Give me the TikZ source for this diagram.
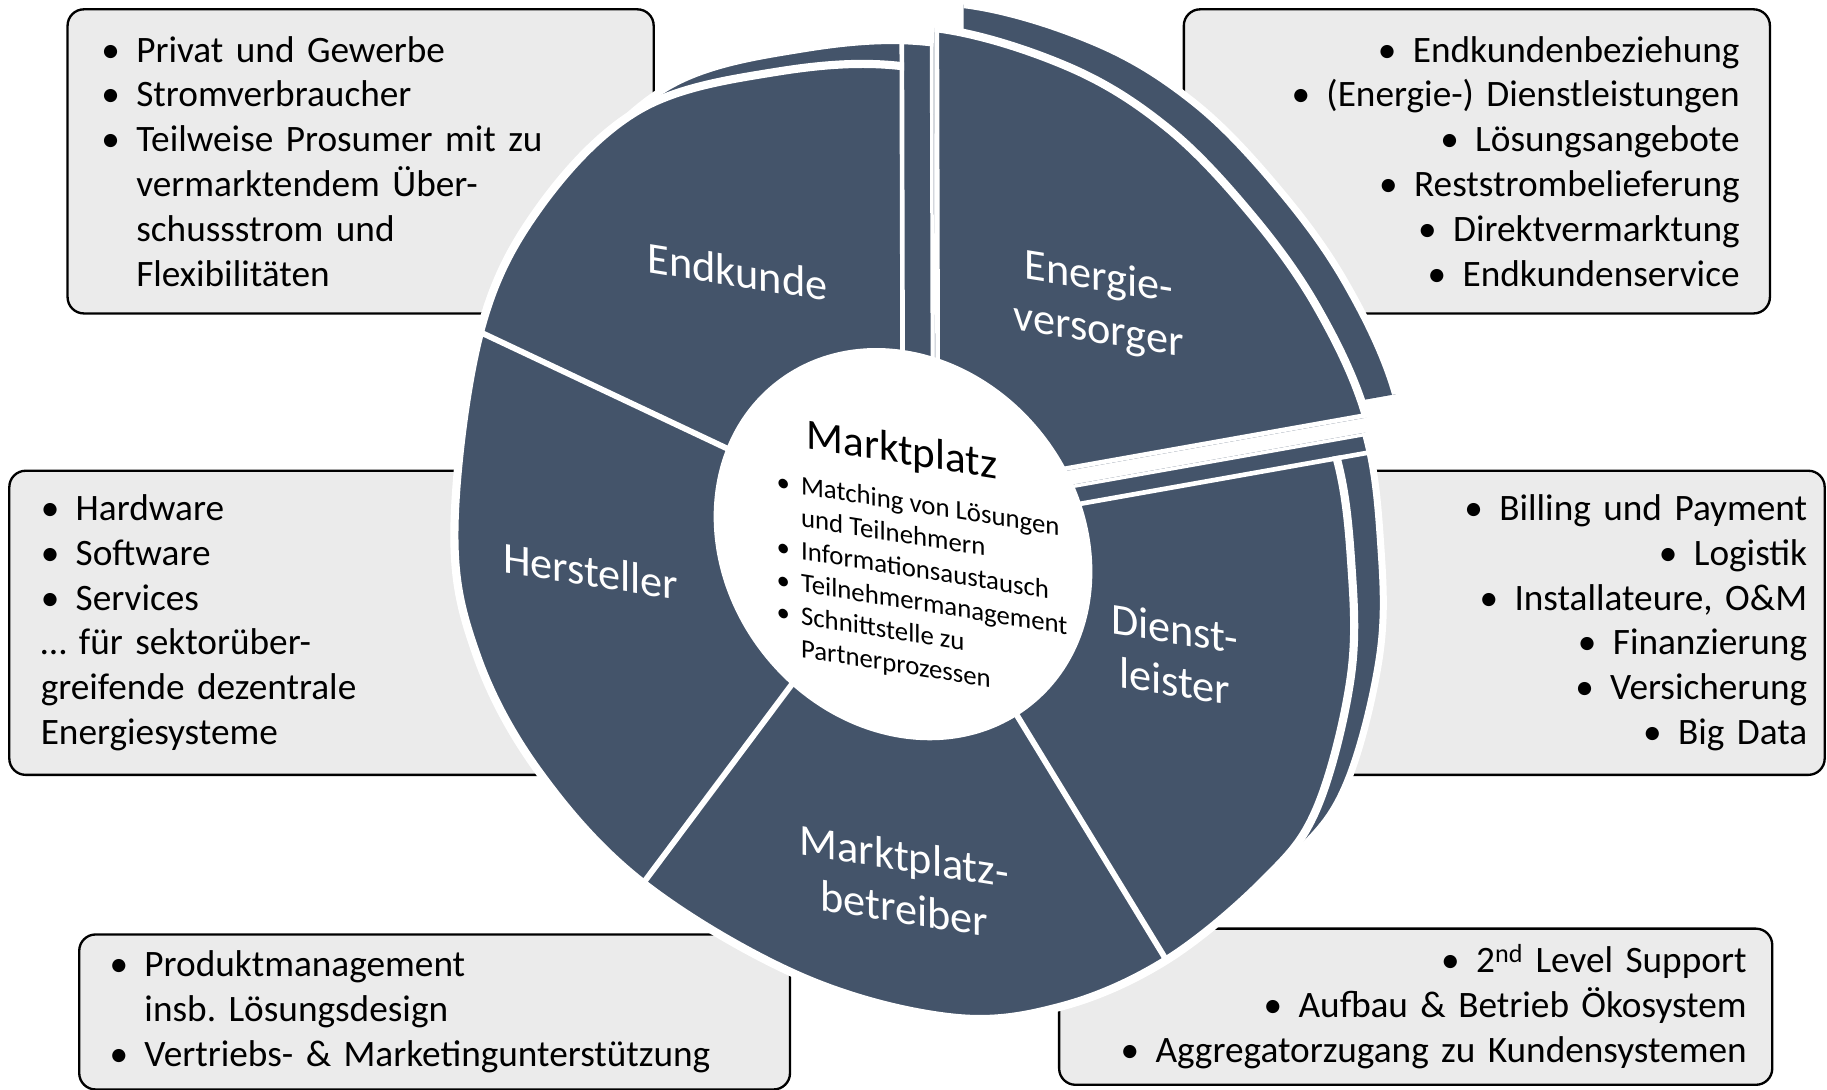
\documentclass[tikz,border=0pt]{standalone}
\usepackage{fontspec}
\setmainfont{Carlito}
\usetikzlibrary{calc,positioning}

\definecolor{ringblau}{HTML}{44546A}
\definecolor{kastengrau}{HTML}{EBEBEB}

\frenchspacing
\newcommand{\bul}[1][30pt]{\makebox[#1][l]{\textbullet}}
\newcommand{\aussen}{plot[smooth cycle, tension=0.6] coordinates {(776,57) (890,90) (975,142) (1047,216) (1104,296) (1146,389) (1160,488) (1159,583) (1130,694) (1085,755) (1001,824) (910,864) (815,873) (687,838) (552,758) (463,663) (409,562) (390,455) (412,285) (463,178) (549,94) (664,62)}}
\newcommand{\energiekeil}{(777,457) -- (774,-743) -- (1875,262) -- cycle}
\newcommand{\restkeil}{(777,457) -- (1875,262) -- (1875,1500) -- (-500,1500) -- (-500,-743) -- (774,-743) -- cycle}

\begin{document}
\begin{tikzpicture}[x=1pt,y=-1pt,
	kasten/.style={draw=black,line width=2pt,fill=kastengrau,rounded corners=14pt,
		minimum height=261pt,inner ysep=0pt,font=\fontsize{32}{38.5}\selectfont},
	vorderseite/.style={fill=ringblau,draw=white,line width=7pt},
	rueckseite/.style={fill=ringblau,draw=white,line width=6pt},
	trennlinie/.style={draw=white,line width=5pt},
	segtext/.style={text=white,align=center,yslant=-0.16,font=\fontsize{38}{45}\selectfont},
	mptitel/.style={yslant=-0.16,font=\fontsize{37}{44}\selectfont},
	mpliste/.style={yslant=-0.16,align=left,font=\fontsize{23}{28}\selectfont}]
	\useasboundingbox (0,0) rectangle (1568,935);

	\node[kasten,anchor=north west,text width=445pt,inner xsep=29pt,align=left] (kundeinfo) at (57,7)
		{\bul Privat und Gewerbe\\ \bul Stromverbraucher\\ \bul Teilweise Prosumer mit zu\\
		\hspace*{30pt}vermarktendem Über-\\ \hspace*{30pt}schussstrom und\\ \hspace*{30pt}Flexibilitäten};
	\node[kasten,anchor=north west,text width=451pt,inner xsep=26pt,align=right] (versorgerinfo) at (1015,7)
		{\bul Endkundenbeziehung\\ \bul (Energie-) Dienstleistungen\\ \bul Lösungsangebote\\
		\bul Reststrombelieferung\\ \bul Direktvermarktung\\ \bul Endkundenservice};
	\node[kasten,anchor=north west,text width=449pt,inner xsep=27pt,align=left] (herstellerinfo) at (7,403)
		{\bul Hardware\\ \bul Software\\ \bul Services\\ … für sektorüber-\\ greifende dezentrale\\ Energiesysteme};
	\node[kasten,anchor=north east,text width=473pt,inner xsep=15pt,align=right] (dienstinfo) at (1567,403)
		{\bul Billing und Payment\\ \bul Logistik\\ \bul Installateure, O\&M\\
		\bul Finanzierung\\ \bul Versicherung\\ \bul Big Data};
	\node[kasten,anchor=north west,text width=558pt,inner xsep=26pt,align=left,minimum height=133pt] (produktinfo) at (67,801)
		{\bul Produktmanagement\\ \hspace*{30pt}insb. Lösungsdesign\\ \bul Vertriebs- \& Marketingunterstützung};
	\node[kasten,anchor=north west,text width=568pt,inner xsep=22pt,align=right,minimum height=134pt] (betriebinfo) at (908,796)
		{\bul 2\textsuperscript{nd} Level Support\\ \bul Aufbau \& Betrieb Ökosystem\\ \bul Aggregatorzugang zu Kundensystemen};

	\begin{scope}[shift={(25,-20)}]
		\clip \restkeil;
		\fill[rueckseite] \aussen;
		\draw[white,line width=6pt] \restkeil;
	\end{scope}
	\begin{scope}[shift={(51,-53)}]
		\clip \energiekeil;
		\fill[rueckseite] \aussen;
	\end{scope}

	\begin{scope}
		\clip \restkeil;
		\fill[vorderseite] \aussen;
		\draw[white,line width=8pt] \restkeil;
	\end{scope}
	\coordinate (C) at (777,457);
	\coordinate (s3) at (1001,824);
	\coordinate (s4) at (552,758);
	\coordinate (s5) at (412,285);
	\draw[trennlinie] (C) -- (s3) (C) -- (s4) (C) -- (s5);

	\begin{scope}[shift={(26,-33)}]
		\clip \energiekeil;
		\fill[vorderseite] \aussen;
		\draw[white,line width=8pt] \energiekeil;
	\end{scope}

	\fill[white,rotate around={-52:(775,467)}] (775,467) ellipse (177pt and 153pt);

	\node[segtext] (endkunde) at (633,233) {Endkunde};
	\node[segtext] (energie) at (943,262) {Energie-\\versorger};
	\node[segtext] (hersteller) at (507,490) {Hersteller};
	\node[segtext] (dienstleister) at (1008,562) {Dienst-\\leister};
	\node[segtext] (betreiber) at (776,757) {Marktplatz-\\betreiber};
	\node[mptitel] (marktplatz) at (774,388) {Marktplatz};
	\node[mpliste,anchor=west] (mpliste) at (663,484)
		{\bul[21pt]Matching von Lösungen\\ \hspace*{21pt}und Teilnehmern\\ \bul[21pt]Informationsaustausch\\
		\bul[21pt]Teilnehmermanagement\\ \bul[21pt]Schnittstelle zu\\ \hspace*{21pt}Partnerprozessen};
\end{tikzpicture}
\end{document}
